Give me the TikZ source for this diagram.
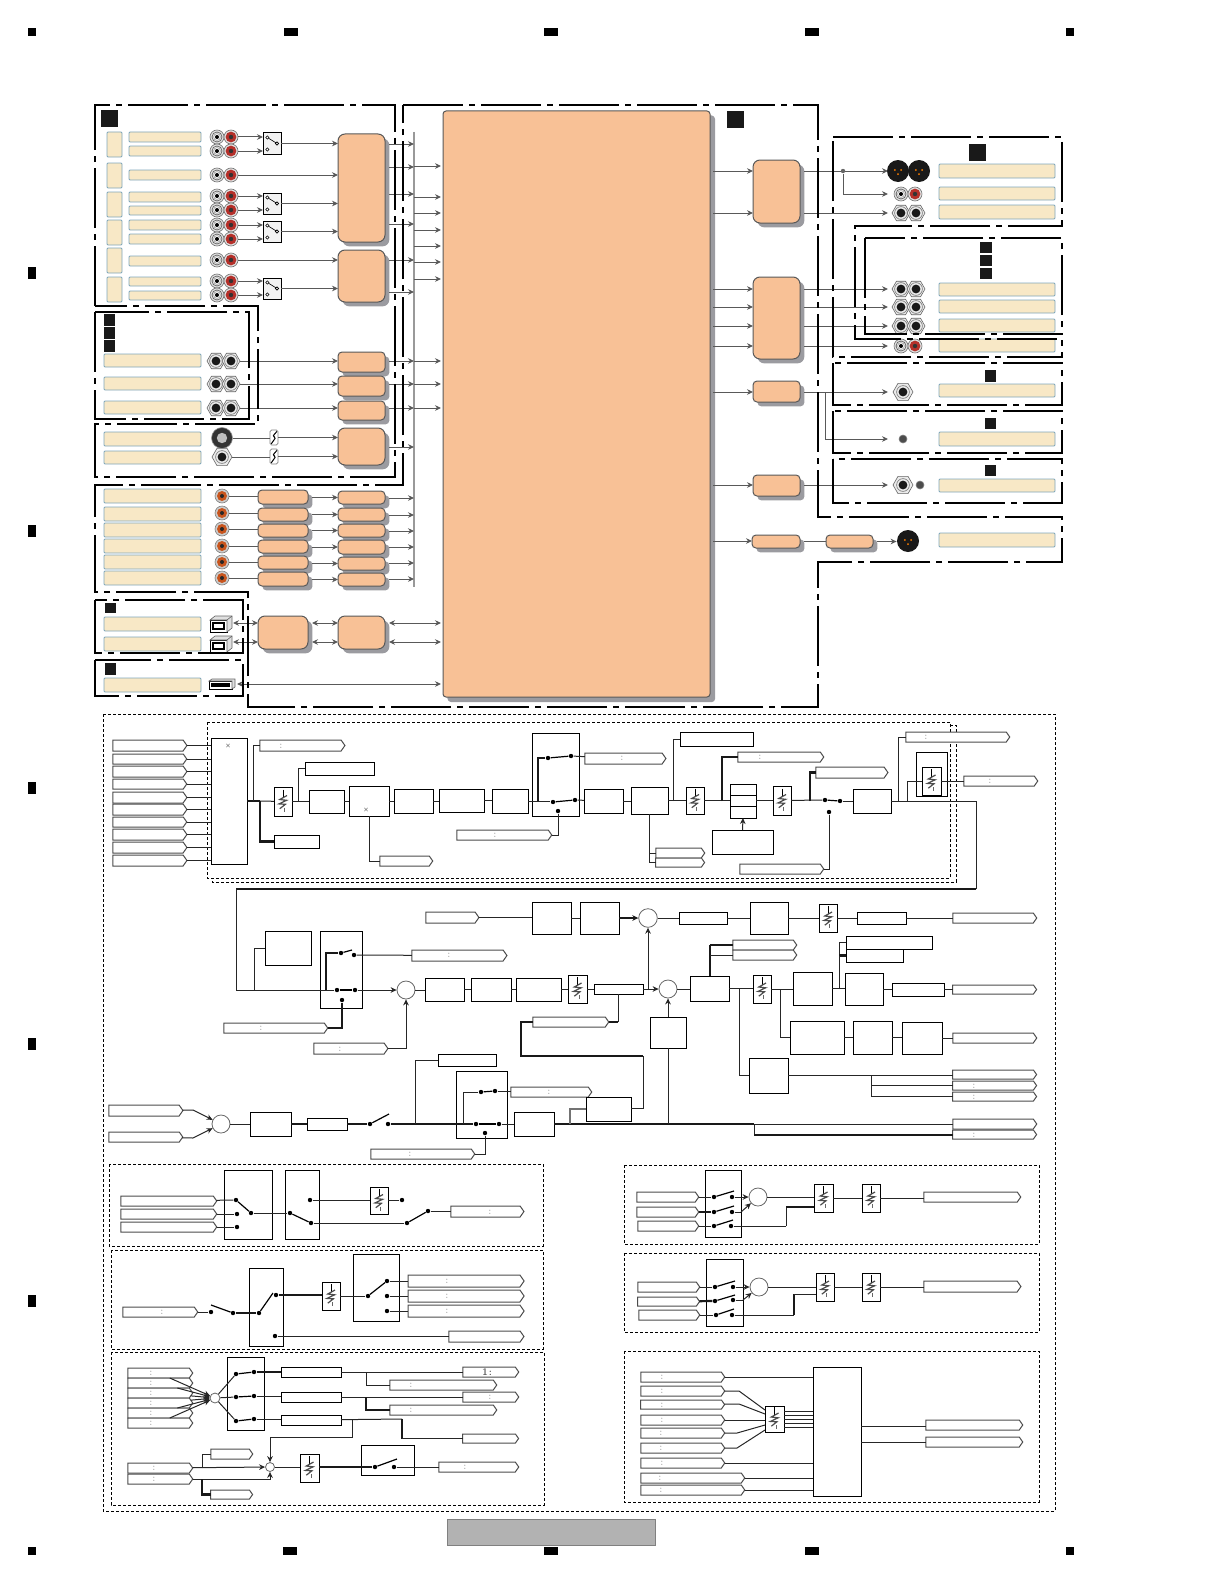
\documentclass[tikz,border=0pt]{standalone}
\usepackage{amsmath,amsfonts,amssymb}
\usepackage{xcolor}
\usetikzlibrary{arrows.meta,shadows,shapes.geometric,shapes.symbols}
\definecolor{blockorange}{HTML}{F8C196}
\definecolor{labelcream}{HTML}{F8E8C6}
\definecolor{labeledge}{HTML}{7FA6BA}
\definecolor{shadowgray}{HTML}{9B9BA0}
\definecolor{jackred}{HTML}{B5302A}
\definecolor{rcaorange}{HTML}{C8551E}
\tikzset{
  spanbox/.style n args={4}{at={({(#1+#3)/2},{(#2+#4)/2})},minimum width={(#3-#1)*0.5pt},minimum height={(#4-#2)*0.5pt},inner sep=0pt,outer sep=0pt},
  panel/.style={line width=1pt,dash pattern=on 30pt off 3pt on 3pt off 3pt},
  dotpanel/.style={line width=0.5pt,dash pattern=on 1.5pt off 1pt},
  lblbox/.style={draw=labeledge,fill=labelcream,line width=0.4pt,rounded corners=0.5pt},
  blk/.style={draw=black!65,fill=blockorange,line width=0.5pt,rounded corners=2pt,drop shadow={shadow xshift=2.2pt,shadow yshift=-2.2pt,fill=shadowgray,opacity=1}},
  bigblk/.style={blk,rounded corners=3.5pt},
  sqmark/.style={fill=black!90},
  regmark/.style={fill=black},
  sigbox/.style={draw=black,fill=white,line width=0.5pt},
  swbox/.style={draw=black,line width=0.5pt},
  sigtag/.style={signal,signal to=east,signal pointer angle=110,draw=black!70,fill=white,line width=0.5pt,xshift=-1pt},
  tagmark/.style={font=\tiny,text=black!35,inner sep=0pt},
  mixmark/.style={font=\tiny,scale=0.6,inner sep=0pt},
  sumnode/.style={circle,draw=black!60,fill=white,line width=0.4pt,inner sep=0pt},
  swdot/.style={circle,fill=black,minimum size=2.2pt,inner sep=0pt},
  wire/.style={line width=0.5pt,black!85},
  fat/.style={line width=1.1pt,black!90},
  blade/.style={line width=0.6pt,black},
  jw/.style={line width=0.5pt,black!65},
  fader/.style={sigbox,path picture={
    \coordinate (c) at (path picture bounding box.center);
    \draw[line width=0.4pt] ([yshift=6pt]c) -- ([yshift=2pt]c);
    \draw[line width=0.6pt,black!70] ([shift={(2pt,3pt)}]c) -- ([shift={(-1.6pt,1pt)}]c) -- ([shift={(1.8pt,0.6pt)}]c) -- ([shift={(-2pt,-1.2pt)}]c) -- ([shift={(1.2pt,-1.4pt)}]c) -- ([shift={(-1.6pt,-3.6pt)}]c);
    \draw[line width=0.4pt,black!60] ([shift={(0.8pt,-3pt)}]c) -- ([shift={(0.8pt,-5pt)}]c);
  }},
  minifader/.style={draw=black!50,fill=white,line width=0.3pt,rounded corners=0.8pt,path picture={
    \coordinate (c) at (path picture bounding box.center);
    \draw[line width=0.5pt,black] ([shift={(1.4pt,3pt)}]c) -- ([shift={(-0.8pt,0.4pt)}]c) -- ([shift={(1pt,0.2pt)}]c) -- ([shift={(-1.4pt,-3.2pt)}]c);
  }},
  swicon/.style={draw=black,fill=black!5,line width=0.5pt,path picture={
    \coordinate (c) at (path picture bounding box.center);
    \draw[line width=0.3pt] ([shift={(-2.3pt,3pt)}]c) -- ([shift={(2.5pt,0pt)}]c);
    \draw[line width=0.3pt,fill=white] ([shift={(-2.3pt,3pt)}]c) circle (0.8pt) ([shift={(-2.3pt,-3pt)}]c) circle (0.8pt) ([shift={(2.5pt,0pt)}]c) circle (0.8pt);
  }},
  rcawhite/.style={circle,draw=black!55,fill=black!12,line width=0.3pt,minimum size=7pt,inner sep=0pt,path picture={
    \coordinate (c) at (path picture bounding box.center);
    \draw[black!60,line width=0.4pt,fill=white] (c) circle (2.5pt);
    \draw[black!40,line width=0.3pt] (c) circle (1.7pt);
    \fill[black] (c) circle (1pt);
  }},
  rcared/.style={circle,draw=black!55,fill=black!12,line width=0.3pt,minimum size=7pt,inner sep=0pt,path picture={
    \coordinate (c) at (path picture bounding box.center);
    \fill[jackred] (c) circle (2.7pt);
    \fill[black!80] (c) circle (1.1pt);
  }},
  rcabrown/.style={circle,draw=black!50,fill=black!20,line width=0.3pt,minimum size=7pt,inner sep=0pt,path picture={
    \coordinate (c) at (path picture bounding box.center);
    \fill[rcaorange] (c) circle (2.5pt);
    \fill[black!85] (c) circle (1pt);
  }},
  hexjack/.style={regular polygon,regular polygon sides=6,draw=black!60,fill=black!8,line width=0.3pt,minimum size=9pt,inner sep=0pt,path picture={
    \coordinate (c) at (path picture bounding box.center);
    \draw[black!55,line width=0.3pt] (c) circle (3.2pt);
    \fill[black!90] (c) circle (2.2pt);
  }},
  xlrjack/.style={circle,fill=black!90,minimum size=11pt,inner sep=0pt,path picture={
    \coordinate (c) at (path picture bounding box.center);
    \fill[orange] ([shift={(-1.6pt,0.5pt)}]c) circle (0.5pt) ([shift={(1.6pt,0.5pt)}]c) circle (0.5pt) ([shift={(0pt,-1.6pt)}]c) circle (0.5pt);
  }},
  pinjack/.style={circle,draw=black!50,fill=black!70,line width=0.3pt,minimum size=4pt,inner sep=0pt},
  bigjack/.style={circle,draw=black!40,fill=black!80,line width=0.3pt,minimum size=10.5pt,inner sep=0pt,path picture={
    \coordinate (c) at (path picture bounding box.center);
    \fill[black!25] (c) circle (2.6pt);
  }},
  usbb/.style={draw=black,fill=white,line width=0.5pt,path picture={
    \coordinate (c) at (path picture bounding box.center);
    \draw[line width=0.9pt] ([shift={(-2.7pt,-1.5pt)}]c) rectangle ([shift={(2.7pt,1.5pt)}]c);
  }},
  usbside/.style={draw=black!60,fill=black!12,line width=0.3pt},
  usba/.style={draw=black,fill=white,line width=0.4pt,path picture={
    \coordinate (c) at (path picture bounding box.center);
    \fill[black] ([shift={(-4.8pt,-1.2pt)}]c) rectangle ([shift={(4.8pt,1.2pt)}]c);
  }},
}
\begin{document}
\begin{tikzpicture}[x=0.5pt,y=-0.5pt,>={Stealth[length=3pt,width=2.8pt]}]
\useasboundingbox (0,0) rectangle (1224,1584);

% Page registration marks
\node[regmark,spanbox={28}{28}{36}{36}] (regT1) {};
\node[regmark,spanbox={284}{28}{298}{36}] (regT2) {};
\node[regmark,spanbox={544}{28}{558}{36}] (regT3) {};
\node[regmark,spanbox={805}{28}{819}{36}] (regT4) {};
\node[regmark,spanbox={1066}{28}{1074}{36}] (regT5) {};
\node[regmark,spanbox={28}{267}{36}{279}] (regL1) {};
\node[regmark,spanbox={28}{525}{36}{537}] (regL2) {};
\node[regmark,spanbox={28}{782}{36}{794}] (regL3) {};
\node[regmark,spanbox={28}{1038}{36}{1050}] (regL4) {};
\node[regmark,spanbox={28}{1295}{36}{1307}] (regL5) {};
\node[regmark,spanbox={28}{1547}{36}{1555}] (regB1) {};
\node[regmark,spanbox={283}{1547}{297}{1555}] (regB2) {};
\node[regmark,spanbox={544}{1547}{558}{1555}] (regB3) {};
\node[regmark,spanbox={805}{1547}{819}{1555}] (regB4) {};
\node[regmark,spanbox={1066}{1547}{1074}{1555}] (regB5) {};
\node[draw=black!50,fill=black!30,line width=0.4pt,spanbox={447}{1519}{655}{1545}] (footer) {};

% Main processing block
\node[bigblk,spanbox={443}{111}{710}{697},drop shadow={shadow xshift=2.5pt,shadow yshift=-2.5pt,fill=shadowgray,opacity=1},rounded corners=1.5pt] (main) {};

% Input labels, upper group
\node[lblbox,spanbox={107}{132}{122}{157}] (grpA1) {};
\node[lblbox,spanbox={107}{163}{122}{188}] (grpA2) {};
\node[lblbox,spanbox={107}{192}{122}{217}] (grpA3) {};
\node[lblbox,spanbox={107}{220}{122}{245}] (grpA4) {};
\node[lblbox,spanbox={107}{248}{122}{273}] (grpA5) {};
\node[lblbox,spanbox={107}{277}{122}{302}] (grpA6) {};
\node[lblbox,spanbox={129}{132}{201}{142}] (lblA1) {};
\node[lblbox,spanbox={129}{146}{201}{156}] (lblA2) {};
\node[lblbox,spanbox={129}{170}{201}{180}] (lblA3) {};
\node[lblbox,spanbox={129}{192}{201}{202}] (lblA4) {};
\node[lblbox,spanbox={129}{206}{201}{215}] (lblA5) {};
\node[lblbox,spanbox={129}{220}{201}{230}] (lblA6) {};
\node[lblbox,spanbox={129}{234}{201}{244}] (lblA7) {};
\node[lblbox,spanbox={129}{256}{201}{266}] (lblA8) {};
\node[lblbox,spanbox={129}{277}{201}{286}] (lblA9) {};
\node[lblbox,spanbox={129}{291}{201}{300}] (lblA10) {};

% RCA jacks
\node[rcawhite] (jkA1w) at (217,137) {};  \node[rcared] (jkA1r) at (231,137) {};
\node[rcawhite] (jkA2w) at (217,151) {};  \node[rcared] (jkA2r) at (231,151) {};
\node[rcawhite] (jkA3w) at (217,175) {};  \node[rcared] (jkA3r) at (231,175) {};
\node[rcawhite] (jkA4w) at (217,196) {};  \node[rcared] (jkA4r) at (231,196) {};
\node[rcawhite] (jkA5w) at (217,210) {};  \node[rcared] (jkA5r) at (231,210) {};
\node[rcawhite] (jkA6w) at (217,225) {};  \node[rcared] (jkA6r) at (231,225) {};
\node[rcawhite] (jkA7w) at (217,239) {};  \node[rcared] (jkA7r) at (231,239) {};
\node[rcawhite] (jkA8w) at (217,260) {};  \node[rcared] (jkA8r) at (231,260) {};
\node[rcawhite] (jkA9w) at (217,281) {};  \node[rcared] (jkA9r) at (231,281) {};
\node[rcawhite] (jkA10w) at (217,295) {}; \node[rcared] (jkA10r) at (231,295) {};

% Selector switches and converters
\node[swicon,spanbox={263}{133}{281}{154}] (swA1) {};
\node[swicon,spanbox={263}{193}{281}{214}] (swA2) {};
\node[swicon,spanbox={263}{221}{281}{242}] (swA3) {};
\node[swicon,spanbox={263}{278}{281}{299}] (swA4) {};
\node[bigblk,spanbox={338}{134}{385}{242}] (blkA) {};
\node[bigblk,spanbox={338}{250}{385}{302}] (blkB) {};

\draw[jw,->] (jkA1r) -- (jkA1r -| swA1.west);
\draw[jw,->] (jkA2r) -- (jkA2r -| swA1.west);
\draw[jw,->] (jkA4r) -- (jkA4r -| swA2.west);
\draw[jw,->] (jkA5r) -- (jkA5r -| swA2.west);
\draw[jw,->] (jkA6r) -- (jkA6r -| swA3.west);
\draw[jw,->] (jkA7r) -- (jkA7r -| swA3.west);
\draw[jw,->] (jkA9r) -- (jkA9r -| swA4.west);
\draw[jw,->] (jkA10r) -- (jkA10r -| swA4.west);
\draw[jw,->] (jkA3r) -- (jkA3r -| blkA.west);
\draw[jw,->] (jkA8r) -- (jkA8r -| blkB.west);
\draw[jw,->] (swA1) -- (swA1 -| blkA.west);
\draw[jw,->] (swA2) -- (swA2 -| blkA.west);
\draw[jw,->] (swA3) -- (swA3 -| blkA.west);
\draw[jw,->] (swA4) -- (swA4 -| blkB.west);

% Balanced inputs
\node[sqmark,spanbox={104}{314}{115}{326}] (sqC1) {};
\node[sqmark,spanbox={104}{327}{115}{339}] (sqC2) {};
\node[sqmark,spanbox={104}{340}{115}{352}] (sqC3) {};
\node[sqmark,spanbox={101}{110}{118}{127}] (sqA) {};
\node[lblbox,spanbox={104}{354}{201}{367}] (lblC1) {};
\node[lblbox,spanbox={104}{377}{201}{390}] (lblC2) {};
\node[lblbox,spanbox={104}{401}{201}{414}] (lblC3) {};
\node[hexjack] (jkC1a) at (216,361) {}; \node[hexjack] (jkC1b) at (231,361) {};
\node[hexjack] (jkC2a) at (216,384) {}; \node[hexjack] (jkC2b) at (231,384) {};
\node[hexjack] (jkC3a) at (216,408) {}; \node[hexjack] (jkC3b) at (231,408) {};
\node[blk,spanbox={338}{352}{385}{372}] (blkC1) {};
\node[blk,spanbox={338}{376}{385}{396}] (blkC2) {};
\node[blk,spanbox={338}{401}{385}{420}] (blkC3) {};
\draw[jw,->] (jkC1b) -- (jkC1b -| blkC1.west);
\draw[jw,->] (jkC2b) -- (jkC2b -| blkC2.west);
\draw[jw,->] (jkC3b) -- (jkC3b -| blkC3.west);

% Mic inputs
\node[lblbox,spanbox={104}{432}{201}{446}] (lblD1) {};
\node[lblbox,spanbox={104}{451}{201}{464}] (lblD2) {};
\node[bigjack] (jkD1) at (222,438) {};
\node[hexjack,minimum size=10pt] (jkD2) at (222,457) {};
\node[minifader,spanbox={270}{430}{278}{445}] (vrD1) {};
\node[minifader,spanbox={270}{449}{278}{464}] (vrD2) {};
\node[bigblk,spanbox={338}{428}{385}{465}] (blkD) {};
\draw[jw] (jkD1) -- (jkD1 -| vrD1.west);
\draw[jw] (jkD2) -- (jkD2 -| vrD2.west);
\draw[jw,->] (vrD1) -- (vrD1 -| blkD.west);
\draw[jw,->] (vrD2) -- (vrD2 -| blkD.west);

% Digital inputs
\node[lblbox,spanbox={104}{489}{201}{503}] (lblE1) {};
\node[lblbox,spanbox={104}{507}{201}{521}] (lblE2) {};
\node[lblbox,spanbox={104}{523}{201}{537}] (lblE3) {};
\node[lblbox,spanbox={104}{539}{201}{553}] (lblE4) {};
\node[lblbox,spanbox={104}{555}{201}{569}] (lblE5) {};
\node[lblbox,spanbox={104}{571}{201}{585}] (lblE6) {};
\node[rcabrown] (jkE1) at (222,496) {};
\node[rcabrown] (jkE2) at (222,513) {};
\node[rcabrown] (jkE3) at (222,529) {};
\node[rcabrown] (jkE4) at (222,546) {};
\node[rcabrown] (jkE5) at (222,562) {};
\node[rcabrown] (jkE6) at (222,578) {};
\node[blk,spanbox={258}{490}{308}{504}] (blkE1) {};
\node[blk,spanbox={258}{508}{308}{521}] (blkE2) {};
\node[blk,spanbox={258}{524}{308}{537}] (blkE3) {};
\node[blk,spanbox={258}{540}{308}{553}] (blkE4) {};
\node[blk,spanbox={258}{556}{308}{569}] (blkE5) {};
\node[blk,spanbox={258}{572}{308}{586}] (blkE6) {};
\node[blk,spanbox={338}{491}{385}{504}] (blkF1) {};
\node[blk,spanbox={338}{508}{385}{521}] (blkF2) {};
\node[blk,spanbox={338}{524}{385}{537}] (blkF3) {};
\node[blk,spanbox={338}{540}{385}{554}] (blkF4) {};
\node[blk,spanbox={338}{557}{385}{570}] (blkF5) {};
\node[blk,spanbox={338}{573}{385}{586}] (blkF6) {};
\draw[jw] (jkE1) -- (jkE1 -| blkE1.west);
\draw[jw] (jkE2) -- (jkE2 -| blkE2.west);
\draw[jw] (jkE3) -- (jkE3 -| blkE3.west);
\draw[jw] (jkE4) -- (jkE4 -| blkE4.west);
\draw[jw] (jkE5) -- (jkE5 -| blkE5.west);
\draw[jw] (jkE6) -- (jkE6 -| blkE6.west);
\draw[jw,->,shorten <=2.2pt] (blkF1 -| blkE1.east) -- (blkF1.west);
\draw[jw,->,shorten <=2.2pt] (blkF2 -| blkE2.east) -- (blkF2.west);
\draw[jw,->,shorten <=2.2pt] (blkF3 -| blkE3.east) -- (blkF3.west);
\draw[jw,->,shorten <=2.2pt] (blkF4 -| blkE4.east) -- (blkF4.west);
\draw[jw,->,shorten <=2.2pt] (blkF5 -| blkE5.east) -- (blkF5.west);
\draw[jw,->,shorten <=2.2pt] (blkF6 -| blkE6.east) -- (blkF6.west);

% USB section
\node[sqmark,spanbox={105}{603}{116}{613}] (sqG) {};
\node[sqmark,spanbox={105}{663}{116}{675}] (sqH) {};
\node[lblbox,spanbox={104}{617}{201}{631}] (lblG1) {};
\node[lblbox,spanbox={104}{637}{201}{651}] (lblG2) {};
\node[lblbox,spanbox={104}{678}{201}{692}] (lblH) {};
\node[usbb,spanbox={210}{620}{227}{632}] (usbG1) {};
\node[usbb,spanbox={210}{640}{227}{652}] (usbG2) {};
\draw[usbside] (usbG1.north west) -- ++(5,-4) -- ++(17,0) -- ++(0,12) -- (usbG1.south east) -- (usbG1.north east) -- cycle;
\draw[usbside] (usbG2.north west) -- ++(5,-4) -- ++(17,0) -- ++(0,12) -- (usbG2.south east) -- (usbG2.north east) -- cycle;
\draw[line width=0.3pt,black!60] (usbG1.north east) -- ++(5,-4);
\draw[line width=0.3pt,black!60] (usbG2.north east) -- ++(5,-4);
\node[usba,spanbox={209}{681}{232}{689}] (usbH) {};
\draw[usbside] (usbH.north west) -- ++(3,-2) -- ++(23,0) -- ++(0,8) -- (usbH.south east) -- (usbH.north east) -- cycle;
\node[bigblk,spanbox={258}{616}{308}{649}] (blkG1) {};
\node[bigblk,spanbox={338}{616}{385}{649}] (blkG2) {};
\coordinate (usbL1) at (233,623);
\coordinate (usbL2) at (233,642);
\coordinate (usbL3) at (237,684);
\draw[jw,<->] (usbL1) -- (usbL1 -| blkG1.west);
\draw[jw,<->] (usbL2) -- (usbL2 -| blkG1.west);
\draw[jw,<->,shorten <=2pt] (usbL1 -| blkG1.east) -- (usbL1 -| blkG2.west);
\draw[jw,<->,shorten <=2pt] (usbL2 -| blkG1.east) -- (usbL2 -| blkG2.west);
\draw[jw,<->,shorten <=2pt,shorten >=1pt] (usbL1 -| blkG2.east) -- (usbL1 -| main.west);
\draw[jw,<->,shorten <=2pt,shorten >=1pt] (usbL2 -| blkG2.east) -- (usbL2 -| main.west);
\draw[jw,<->,shorten >=1pt] (usbL3) -- (usbL3 -| main.west);

% Bus toward main block
\coordinate (busT) at (414,132);
\coordinate (busB) at (414,587);
\draw[line width=0.6pt,black!40] (busT) -- (busB);
\coordinate (biA1) at (414,144);
\coordinate (biA2) at (414,167);
\coordinate (biA3) at (414,194);
\coordinate (biA4) at (414,224);
\coordinate (biB1) at (414,260);
\coordinate (biB2) at (414,292);
\coordinate (biC1) at (414,361);
\coordinate (biC2) at (414,384);
\coordinate (biC3) at (414,408);
\coordinate (biD) at (414,447);
\coordinate (biF1) at (414,498);
\coordinate (biF2) at (414,515);
\coordinate (biF3) at (414,531);
\coordinate (biF4) at (414,547);
\coordinate (biF5) at (414,563);
\coordinate (biF6) at (414,579);
\draw[jw,->,shorten <=2.2pt] (biA1 -| blkA.east) -- (biA1);
\draw[jw,->,shorten <=2.2pt] (biA2 -| blkA.east) -- (biA2);
\draw[jw,->,shorten <=2.2pt] (biA3 -| blkA.east) -- (biA3);
\draw[jw,->,shorten <=2.2pt] (biA4 -| blkA.east) -- (biA4);
\draw[jw,->,shorten <=2.2pt] (biB1 -| blkB.east) -- (biB1);
\draw[jw,->,shorten <=2.2pt] (biB2 -| blkB.east) -- (biB2);
\draw[jw,->,shorten <=2.2pt] (biC1 -| blkC1.east) -- (biC1);
\draw[jw,->,shorten <=2.2pt] (biC2 -| blkC2.east) -- (biC2);
\draw[jw,->,shorten <=2.2pt] (biC3 -| blkC3.east) -- (biC3);
\draw[jw,->,shorten <=2.2pt] (biD -| blkD.east) -- (biD);
\draw[jw,->,shorten <=2.2pt] (biF1 -| blkF1.east) -- (biF1);
\draw[jw,->,shorten <=2.2pt] (biF2 -| blkF2.east) -- (biF2);
\draw[jw,->,shorten <=2.2pt] (biF3 -| blkF3.east) -- (biF3);
\draw[jw,->,shorten <=2.2pt] (biF4 -| blkF4.east) -- (biF4);
\draw[jw,->,shorten <=2.2pt] (biF5 -| blkF5.east) -- (biF5);
\draw[jw,->,shorten <=2.2pt] (biF6 -| blkF6.east) -- (biF6);
\coordinate (boM1) at (414,166);
\coordinate (boM2) at (414,197);
\coordinate (boM3) at (414,213);
\coordinate (boM4) at (414,230);
\coordinate (boM5) at (414,246);
\coordinate (boM6) at (414,262);
\coordinate (boM7) at (414,279);
\draw[jw,->,shorten >=1pt] (boM1) -- (boM1 -| main.west);
\draw[jw,->,shorten >=1pt] (boM2) -- (boM2 -| main.west);
\draw[jw,->,shorten >=1pt] (boM3) -- (boM3 -| main.west);
\draw[jw,->,shorten >=1pt] (boM4) -- (boM4 -| main.west);
\draw[jw,->,shorten >=1pt] (boM5) -- (boM5 -| main.west);
\draw[jw,->,shorten >=1pt] (boM6) -- (boM6 -| main.west);
\draw[jw,->,shorten >=1pt] (boM7) -- (boM7 -| main.west);
\draw[jw,->,shorten >=1pt] (biC1) -- (biC1 -| main.west);
\draw[jw,->,shorten >=1pt] (biC2) -- (biC2 -| main.west);
\draw[jw,->,shorten >=1pt] (biC3) -- (biC3 -| main.west);

% Output side blocks
\node[sqmark,spanbox={727}{111}{744}{128}] (sqM) {};
\node[bigblk,spanbox={753}{160}{800}{223}] (blkO1) {};
\node[bigblk,spanbox={753}{277}{800}{359}] (blkO2) {};
\node[blk,spanbox={753}{381}{800}{402}] (blkO3) {};
\node[blk,spanbox={753}{475}{800}{496}] (blkO4) {};
\node[blk,spanbox={752}{535}{800}{548}] (blkO5) {};
\node[blk,spanbox={826}{535}{873}{548}] (blkO6) {};

% Output labels and jacks
\node[sqmark,spanbox={969}{144}{986}{161}] (sqR1) {};
\node[sqmark,spanbox={980}{242}{992}{253}] (sqR2) {};
\node[sqmark,spanbox={980}{255}{992}{266}] (sqR3) {};
\node[sqmark,spanbox={980}{268}{992}{279}] (sqR4) {};
\node[sqmark,spanbox={985}{370}{996}{382}] (sqR5) {};
\node[sqmark,spanbox={985}{418}{996}{429}] (sqR6) {};
\node[sqmark,spanbox={985}{465}{996}{476}] (sqR7) {};
\node[lblbox,spanbox={939}{164}{1055}{178}] (lblR1) {};
\node[lblbox,spanbox={939}{187}{1055}{200}] (lblR2) {};
\node[lblbox,spanbox={939}{205}{1055}{219}] (lblR3) {};
\node[lblbox,spanbox={939}{283}{1055}{296}] (lblR4) {};
\node[lblbox,spanbox={939}{300}{1055}{313}] (lblR5) {};
\node[lblbox,spanbox={939}{319}{1055}{332}] (lblR6) {};
\node[lblbox,spanbox={939}{339}{1055}{352}] (lblR7) {};
\node[lblbox,spanbox={939}{384}{1055}{397}] (lblR8) {};
\node[lblbox,spanbox={939}{432}{1055}{446}] (lblR9) {};
\node[lblbox,spanbox={939}{479}{1055}{492}] (lblR10) {};
\node[lblbox,spanbox={939}{533}{1055}{547}] (lblR11) {};
\node[xlrjack] (jkR1a) at (898,171) {}; \node[xlrjack] (jkR1b) at (919,171) {};
\node[rcawhite] (jkR2a) at (901,194) {}; \node[rcared] (jkR2b) at (915,194) {};
\node[hexjack] (jkR3a) at (901,213) {}; \node[hexjack] (jkR3b) at (916,213) {};
\node[hexjack] (jkR4a) at (901,289) {}; \node[hexjack] (jkR4b) at (916,289) {};
\node[hexjack] (jkR5a) at (901,307) {}; \node[hexjack] (jkR5b) at (916,307) {};
\node[hexjack] (jkR6a) at (901,326) {}; \node[hexjack] (jkR6b) at (916,326) {};
\node[rcawhite] (jkR7a) at (901,346) {}; \node[rcared] (jkR7b) at (915,346) {};
\node[hexjack,minimum size=10pt] (jkR8) at (903,392) {};
\node[pinjack] (jkR9) at (903,439) {};
\node[hexjack,minimum size=10pt] (jkR10) at (903,485) {};
\node[pinjack] (jkR10b) at (920,485) {};
\node[xlrjack] (jkR11) at (908,541) {};

% Wires main block to outputs
\draw[jw,->,shorten <=1.5pt] (jkR1a -| main.east) -- (jkR1a -| blkO1.west);
\draw[jw,->,shorten <=1.5pt] (jkR3a -| main.east) -- (jkR3a -| blkO1.west);
\draw[jw,->,shorten <=1.5pt] (jkR4a -| main.east) -- (jkR4a -| blkO2.west);
\draw[jw,->,shorten <=1.5pt] (jkR5a -| main.east) -- (jkR5a -| blkO2.west);
\draw[jw,->,shorten <=1.5pt] (jkR6a -| main.east) -- (jkR6a -| blkO2.west);
\draw[jw,->,shorten <=1.5pt] (jkR7a -| main.east) -- (jkR7a -| blkO2.west);
\draw[jw,->,shorten <=1.5pt] (jkR8 -| main.east) -- (jkR8 -| blkO3.west);
\draw[jw,->,shorten <=1.5pt] (jkR10 -| main.east) -- (jkR10 -| blkO4.west);
\draw[jw,->,shorten <=1.5pt] (jkR11 -| main.east) -- (jkR11 -| blkO5.west);
\coordinate (arR1) at (888,171);
\coordinate (arR2) at (888,194);
\coordinate (arR3) at (888,213);
\coordinate (arR4) at (888,289);
\coordinate (arR5) at (888,307);
\coordinate (arR6) at (888,326);
\coordinate (arR7) at (888,346);
\coordinate (arR8) at (888,392);
\coordinate (arR9) at (888,439);
\coordinate (arR10) at (888,485);
\draw[jw,->,shorten <=2.2pt] (arR1 -| blkO1.east) -- (arR1);
\draw[jw,->,shorten <=2.2pt] (arR3 -| blkO1.east) -- (arR3);
\node[circle,fill=black!60,minimum size=2.2pt,inner sep=0pt] (jnR1) at (843,171) {};
\draw[jw,->] (jnR1) |- (arR2);
\draw[jw,->,shorten <=2.2pt] (arR4 -| blkO2.east) -- (arR4);
\draw[jw,->,shorten <=2.2pt] (arR5 -| blkO2.east) -- (arR5);
\draw[jw,->,shorten <=2.2pt] (arR6 -| blkO2.east) -- (arR6);
\draw[jw,->,shorten <=2.2pt] (arR7 -| blkO2.east) -- (arR7);
\draw[jw,->,shorten <=2.2pt] (arR8 -| blkO3.east) -- (arR8);
\draw[jw,->,shorten <=2.2pt] (arR10 -| blkO4.east) -- (arR10);
\coordinate (jnR2) at (825,392);
\draw[jw,->] (jnR2) |- (arR9);
\draw[jw,shorten <=2.2pt] (blkO5) -- (blkO6);
\draw[jw,->,shorten <=2.2pt] (blkO6.east) -- (blkO6 -| jkR11.west);

% Dash-dot group frames
\draw[panel] (95,306) -- (95,105) -- (395,105) -- (395,477) -- (95,477) -- (95,424) -- (258,424) -- (258,306) -- cycle;
\draw[panel] (95,312) rectangle (249,419);
\draw[panel] (403,105) -- (818,105) -- (818,517) -- (1062,517) -- (1062,562) -- (818,562) -- (818,707) -- (248,707) -- (248,592) -- (95,592) -- (95,485) -- (403,485) -- cycle;
\draw[panel] (95,600) rectangle (243,653);
\draw[panel] (95,660) rectangle (243,696);
\draw[panel] (833,137) -- (1062,137) -- (1062,226) -- (855,226) -- (855,339) -- (1062,339) -- (1062,357) -- (833,357) -- cycle;
\draw[panel] (865,238) rectangle (1062,334);
\draw[panel] (833,363) rectangle (1062,405);
\draw[panel] (833,411) rectangle (1062,453);
\draw[panel] (833,459) rectangle (1062,503);

% Dotted frames of the signal flow
\draw[dotpanel] (103,714) rectangle (1055,1511);
\draw[dotpanel] (207,722) rectangle (950,878);
\draw[dotpanel] (950,725) -- (956,725) -- (956,882) -- (212,882) -- (212,878);
\draw[dotpanel] (109,1164) rectangle (543,1246);
\draw[dotpanel] (111,1250) rectangle (543,1349);
\draw[dotpanel] (111,1352) rectangle (544,1505);
\draw[dotpanel] (624,1165) rectangle (1039,1244);
\draw[dotpanel] (624,1253) rectangle (1039,1332);
\draw[dotpanel] (624,1351) rectangle (1039,1502);

% First row, input selector
\node[sigtag,spanbox={113}{740}{187}{751}] (inA1) {};
\node[sigtag,spanbox={113}{754}{187}{764}] (inA2) {};
\node[sigtag,spanbox={113}{766}{187}{777}] (inA3) {};
\node[sigtag,spanbox={113}{779}{187}{789}] (inA4) {};
\node[sigtag,spanbox={113}{792}{187}{803}] (inA5) {};
\node[sigtag,spanbox={113}{804}{187}{815}] (inA6) {};
\node[sigtag,spanbox={113}{817}{187}{827}] (inA7) {};
\node[sigtag,spanbox={113}{829}{187}{840}] (inA8) {};
\node[sigtag,spanbox={113}{842}{187}{853}] (inA9) {};
\node[sigtag,spanbox={113}{855}{187}{866}] (inA10) {};
\node[sigbox,spanbox={211}{738}{247}{864}] (mix) {};
\node[mixmark] (mixmk) at (228,746) {$\times$};
\draw[wire] (inA1) -- (inA1 -| mix.west);
\draw[wire] (inA2) -- (inA2 -| mix.west);
\draw[wire] (inA3) -- (inA3 -| mix.west);
\draw[wire] (inA4) -- (inA4 -| mix.west);
\draw[wire] (inA5) -- (inA5 -| mix.west);
\draw[wire] (inA6) -- (inA6 -| mix.west);
\draw[wire] (inA7) -- (inA7 -| mix.west);
\draw[wire] (inA8) -- (inA8 -| mix.west);
\draw[wire] (inA9) -- (inA9 -| mix.west);
\draw[wire] (inA10) -- (inA10 -| mix.west);

\node[sigtag,spanbox={260}{740}{345}{751}] (tagA1) {};
\node[fader,spanbox={274}{787}{292}{816}] (fdA1) {};
\node[sigbox,spanbox={274}{835}{319}{848}] (boxA0) {};
\node[sigbox,spanbox={305}{762}{374}{775}] (boxA1) {};
\node[sigbox,spanbox={309}{790}{344}{813}] (boxA2) {};
\node[sigbox,spanbox={349}{786}{389}{816}] (boxA3) {};
\node[mixmark] (boxA3mk) at (366,810) {$\times$};
\node[sigbox,spanbox={394}{789}{433}{813}] (boxA4) {};
\node[sigbox,spanbox={439}{789}{484}{812}] (boxA5) {};
\node[sigbox,spanbox={492}{789}{528}{813}] (boxA6) {};
\node[sigtag,spanbox={380}{856}{433}{866}] (tagA2) {};
\node[sigtag,spanbox={457}{830}{552}{840}] (tagA3) {};
\node[swbox,spanbox={532}{733}{579}{816}] (swbA) {};
\node[sigtag,spanbox={585}{753}{666}{764}] (tagA4) {};
\node[sigbox,spanbox={584}{789}{623}{813}] (boxA7) {};
\node[sigbox,spanbox={631}{787}{668}{814}] (boxA8) {};
\node[sigbox,spanbox={680}{732}{753}{746}] (boxA9) {};
\node[fader,spanbox={686}{787}{704}{814}] (fdA2) {};
\node[sigbox,spanbox={730}{784}{756}{795}] (stkA) {};
\node[sigbox,spanbox={730}{795}{756}{806}] (stkB) {};
\node[sigbox,spanbox={730}{806}{756}{818}] (stkC) {};
\node[sigbox,spanbox={712}{830}{773}{854}] (boxA10) {};
\node[sigtag,spanbox={738}{752}{824}{762}] (tagA5) {};
\node[sigtag,spanbox={656}{848}{705}{858}] (tagA6) {};
\node[sigtag,spanbox={656}{858}{705}{867}] (tagA7) {};
\node[fader,spanbox={773}{786}{791}{815}] (fdA3) {};
\node[sigtag,spanbox={816}{767}{888}{778}] (tagA8) {};
\node[sigtag,spanbox={740}{864}{824}{874}] (tagA9) {};
\node[sigbox,spanbox={853}{789}{891}{813}] (boxA11) {};
\node[sigtag,spanbox={906}{732}{1010}{742}] (tagA10) {};
\node[swbox,spanbox={916}{752}{947}{796}] (swbB) {};
\node[fader,spanbox={922}{767}{941}{795}] (fdA4) {};
\node[sigtag,spanbox={964}{776}{1038}{786}] (tagA11) {};
\node[swdot] (dA1) at (548,758) {};
\node[swdot] (dA2) at (571,756) {};
\node[swdot] (dA3) at (553,802) {};
\node[swdot] (dA4) at (575,800) {};
\node[swdot] (dA5) at (558,811) {};
\node[swdot] (dA6) at (825,800) {};
\node[swdot] (dA7) at (840,801) {};
\node[swdot] (dA8) at (829,812) {};
\coordinate (jA1) at (253,801);
\coordinate (jA2) at (260,801);
\coordinate (jA3) at (298,801);
\coordinate (jA4) at (538,801);
\coordinate (jA5) at (673,801);
\coordinate (jA6) at (722,801);
\coordinate (jA7) at (810,801);
\coordinate (jA8) at (898,801);
\coordinate (jA9) at (907,801);
\coordinate (jB0) at (976,801);
\coordinate (jB1) at (976,889);
\coordinate (jB2) at (236,889);
\coordinate (jB3) at (236,990);
\draw[fat] (mix.east |- jA1) -- (jA2);
\draw[wire] (jA2) -- (fdA1);
\draw[wire] (jA1) |- (tagA1);
\draw[fat] (jA2) |- (boxA0);
\draw[wire] (fdA1) -- (fdA1 -| boxA2.west);
\draw[wire] (jA3) |- (boxA1);
\draw[wire] (boxA2) -- (boxA2 -| boxA3.west);
\draw[wire] (boxA3) -- (boxA3 -| boxA4.west);
\draw[wire] (boxA4) -- (boxA4 -| boxA5.west);
\draw[wire] (boxA5) -- (boxA5 -| boxA6.west);
\draw[wire] (boxA6) -- (boxA6 -| dA3.west);
\draw[wire] (boxA3.south) |- (tagA2);
\draw[wire] (dA5) |- (tagA3);
\draw[fat] (jA4) |- (dA1);
\draw[blade] (dA1) -- (dA2);
\draw[blade] (dA3) -- (dA4);
\draw[wire] (dA2) -- (tagA4);
\draw[wire] (dA4) -- (boxA7);
\draw[wire] (boxA7) -- (boxA7 -| boxA8.west);
\draw[wire] (boxA8) -- (boxA8 -| fdA2.west);
\draw[wire] (jA5) |- (boxA9);
\draw[wire] (boxA8.south) |- (tagA6);
\draw[wire] (boxA8.south) |- (tagA7);
\draw[wire] (fdA2) -- (fdA2 -| stkB.west);
\draw[fat] (jA6) |- (tagA5);
\draw[wire] (stkB) -- (stkB -| fdA3.west);
\draw[wire,->] (boxA10.north) -- (stkC.south);
\draw[wire] (fdA3) -- (dA6);
\draw[fat] (jA7) |- (tagA8);
\draw[blade] (dA6) -- (dA7);
\draw[wire] (dA7) -- (dA7 -| boxA11.west);
\draw[wire] (dA8) |- (tagA9);
\draw[wire] (jA8) |- (tagA10);
\draw[wire] (jA9) |- (fdA4);
\draw[wire] (fdA4) -- (fdA4 -| tagA11.west);
\draw[wire] (boxA11.east |- jB0) -- (jB0) -- (jB1);
\draw[fat] (jB1) -- (jB2);
\draw[wire] (jB2) -- (jB3);

% Second block, left part
\node[sigbox,spanbox={265}{931}{311}{965}] (boxB1) {};
\node[swbox,spanbox={320}{931}{362}{1008}] (swbC) {};
\node[swdot] (dB1) at (341,953) {};
\node[swdot] (dB2) at (354,955) {};
\node[swdot] (dB3) at (337,990) {};
\node[swdot] (dB4) at (355,990) {};
\node[swdot] (dB5) at (342,1000) {};
\node[sigtag,spanbox={412}{950}{507}{961}] (tagB1) {};
\node[sigtag,spanbox={224}{1023}{328}{1033}] (tagB2) {};
\node[sigtag,spanbox={314}{1043}{388}{1054}] (tagB3) {};
\node[sumnode,minimum size=9pt] (sumB1) at (406,990) {};
\node[sigbox,spanbox={425}{978}{464}{1001}] (boxB2) {};
\node[sigbox,spanbox={471}{978}{511}{1001}] (boxB3) {};
\node[sigbox,spanbox={516}{978}{561}{1001}] (boxB4) {};
\node[fader,spanbox={568}{975}{587}{1003}] (fdB1) {};
\node[sigbox,spanbox={594}{984}{643}{994}] (boxB5) {};
\node[sigtag,spanbox={533}{1017}{609}{1027}] (tagB4) {};
\coordinate (jB4) at (254,990);
\coordinate (jB5) at (326,990);
\coordinate (jB6) at (618,1022);
\coordinate (jB7) at (521,1022);
\coordinate (jB8) at (521,1056);
\coordinate (jB9) at (643,1056);
\coordinate (jC0) at (643,1108);
\coordinate (jB10) at (648,990);
\draw[wire] (jB3) -- (dB3);
\draw[wire] (jB4) |- (boxB1);
\draw[fat] (jB5) |- (dB1);
\draw[blade] (dB1) -- (352,950);
\draw[blade] (dB3) -- (dB4);
\draw[wire] (dB2) -- (tagB1);
\draw[fat] (dB5) |- (tagB2);
\draw[wire,->] (dB4) -- (sumB1);
\draw[wire,->] (tagB3) -| (sumB1);
\draw[wire] (sumB1) -- (sumB1 -| boxB2.west);
\draw[wire] (boxB2) -- (boxB2 -| boxB3.west);
\draw[wire] (boxB3) -- (boxB3 -| boxB4.west);
\draw[wire] (boxB4) -- (boxB4 -| fdB1.west);
\draw[wire] (fdB1) -- (fdB1 -| boxB5.west);
\draw[fat] (tagB4) -- (jB6);
\draw[wire] (jB6) -- (jB6 |- boxB5.south);
\draw[fat] (tagB4) -- (jB7) -- (jB8) -- (jB9);

% Second block, upper row
\node[sigtag,spanbox={426}{912}{479}{923}] (tagB5) {};
\node[sigbox,spanbox={532}{902}{571}{934}] (boxB6) {};
\node[sigbox,spanbox={580}{902}{619}{934}] (boxB7) {};
\node[sumnode,minimum size=9.3pt] (sumB2) at (648,918) {};
\node[sigbox,spanbox={679}{912}{727}{924}] (boxB8) {};
\node[sigbox,spanbox={750}{902}{788}{934}] (boxB9) {};
\node[fader,spanbox={819}{904}{837}{932}] (fdB2) {};
\node[sigbox,spanbox={857}{912}{906}{924}] (boxB10) {};
\node[sigtag,spanbox={953}{913}{1037}{923}] (tagB6) {};
\draw[wire] (tagB5) -- (tagB5 -| boxB6.west);
\draw[wire] (boxB6) -- (boxB6 -| boxB7.west);
\draw[fat,->] (boxB7) -- (sumB2);
\draw[wire] (sumB2) -- (sumB2 -| boxB8.west);
\draw[wire] (boxB8) -- (boxB8 -| boxB9.west);
\draw[wire] (boxB9) -- (boxB9 -| fdB2.west);
\draw[wire] (fdB2) -- (fdB2 -| boxB10.west);
\draw[wire] (boxB10) -- (boxB10 -| tagB6.west);
\draw[wire,->] (jB10) -- (sumB2);

% Second block, right part
\node[sumnode,minimum size=9pt] (sumB3) at (668,989) {};
\node[sigbox,spanbox={650}{1017}{686}{1048}] (boxC7) {};
\node[sigbox,spanbox={690}{976}{729}{1001}] (boxD1) {};
\node[sigtag,spanbox={733}{940}{797}{950}] (tagD1) {};
\node[sigtag,spanbox={733}{950}{797}{960}] (tagD2) {};
\node[fader,spanbox={753}{975}{771}{1003}] (fdD1) {};
\node[sigbox,spanbox={793}{972}{832}{1005}] (boxD2) {};
\node[sigbox,spanbox={846}{936}{932}{949}] (boxD3) {};
\node[sigbox,spanbox={846}{949}{903}{962}] (boxD4) {};
\node[sigbox,spanbox={845}{973}{883}{1005}] (boxD5) {};
\node[sigbox,spanbox={892}{983}{944}{996}] (boxD6) {};
\node[sigtag,spanbox={953}{985}{1037}{994}] (tagD3) {};
\node[sigbox,spanbox={790}{1021}{844}{1054}] (boxD7) {};
\node[sigbox,spanbox={853}{1021}{892}{1054}] (boxD8) {};
\node[sigbox,spanbox={902}{1022}{942}{1054}] (boxD9) {};
\node[sigtag,spanbox={953}{1033}{1037}{1043}] (tagD4) {};
\node[sigbox,spanbox={749}{1058}{788}{1093}] (boxD10) {};
\node[sigtag,spanbox={953}{1070}{1037}{1079}] (tagD5) {};
\node[sigtag,spanbox={953}{1081}{1037}{1090}] (tagD6) {};
\node[sigtag,spanbox={953}{1092}{1037}{1101}] (tagD7) {};
\coordinate (jD1) at (710,945);
\coordinate (jD2) at (739,989);
\coordinate (jD3) at (780,989);
\coordinate (jD4) at (839,989);
\coordinate (jD5) at (871,1075);
\draw[wire,->] (boxB5) -- (sumB3);
\draw[wire,->] (boxC7) -- (sumB3);
\draw[wire] (sumB3) -- (sumB3 -| boxD1.west);
\draw[fat] (jD1 |- boxD1.north) -- (jD1);
\draw[fat] (jD1) -- (jD1 -| tagD1.west);
\draw[wire] (jD1 |- tagD2) -- (tagD2);
\draw[wire] (boxD1) -- (boxD1 -| fdD1.west);
\draw[wire] (fdD1) -- (fdD1 -| boxD2.west);
\draw[wire] (boxD2) -- (boxD2 -| boxD5.west);
\draw[wire] (jD4) |- (boxD3);
\draw[fat] (jD4 |- boxD4) -- (boxD4.west);
\draw[wire] (jD4) -- (jD4 |- boxD4);
\draw[wire] (boxD5) -- (boxD5 -| boxD6.west);
\draw[wire] (boxD6) -- (boxD6 -| tagD3.west);
\draw[wire] (jD3) |- (boxD7);
\draw[wire] (boxD7) -- (boxD7 -| boxD8.west);
\draw[wire] (boxD8) -- (boxD8 -| boxD9.west);
\draw[wire] (boxD9) -- (boxD9 -| tagD4.west);
\draw[wire] (jD2) |- (boxD10);
\draw[wire] (boxD10) -- (boxD10 -| tagD5.west);
\draw[wire] (jD5) |- (tagD6);
\draw[wire] (jD5) |- (tagD7);

% Third row
\node[sigtag,spanbox={109}{1105}{183}{1116}] (inC1) {};
\node[sigtag,spanbox={109}{1132}{183}{1142}] (inC2) {};
\node[sumnode,minimum size=9pt] (sumC) at (221,1124) {};
\node[sigbox,spanbox={250}{1112}{291}{1136}] (boxC1) {};
\node[sigbox,spanbox={307}{1118}{347}{1130}] (boxC2) {};
\node[swdot] (dC1) at (370,1124) {};
\node[swdot] (dC2) at (388,1124) {};
\node[sigbox,spanbox={438}{1054}{496}{1066}] (boxC3) {};
\node[swbox,spanbox={456}{1071}{507}{1138}] (swbD) {};
\node[swdot] (dC3) at (476,1124) {};
\node[swdot] (dC4) at (499,1124) {};
\node[swdot] (dC5) at (481,1092) {};
\node[swdot] (dC6) at (495,1091) {};
\node[swdot] (dC7) at (485,1133) {};
\node[sigtag,spanbox={511}{1087}{592}{1097}] (tagC1) {};
\node[sigtag,spanbox={371}{1149}{475}{1159}] (tagC2) {};
\node[sigbox,spanbox={514}{1112}{554}{1136}] (boxC5) {};
\node[sigbox,spanbox={586}{1097}{631}{1121}] (boxC6) {};
\node[sigtag,spanbox={953}{1119}{1037}{1129}] (tagC3) {};
\node[sigtag,spanbox={953}{1130}{1037}{1139}] (tagC4) {};
\coordinate (jC1) at (193,1110);
\coordinate (jC2) at (193,1138);
\coordinate (jC3) at (415,1124);
\coordinate (jC4) at (463,1124);
\coordinate (jC5) at (570,1124);
\coordinate (jC6) at (668,1124);
\coordinate (jC7) at (754,1124);
\coordinate (jC8) at (754,1135);
\coordinate (swC1) at (389,1114);
\draw[wire] (inC1) -- (jC1);
\draw[wire] (inC2) -- (jC2);
\draw[wire,->] (jC1) -- (sumC);
\draw[wire,->] (jC2) -- (sumC);
\draw[wire] (sumC) -- (sumC -| boxC1.west);
\draw[fat] (boxC1) -- (boxC1 -| boxC2.west);
\draw[fat] (boxC2) -- (dC1);
\draw[blade] (dC1) -- (swC1);
\draw[fat] (dC2) -- (dC3);
\draw[wire] (jC3) |- (boxC3);
\draw[blade] (dC3) -- (dC4);
\draw[wire] (jC4) |- (dC5);
\draw[blade] (dC5) -- (dC6);
\draw[wire] (dC6) -- (dC6 -| tagC1.west);
\draw[wire] (dC7) |- (tagC2);
\draw[wire] (dC4) -- (dC4 -| boxC5.west);
\draw[fat] (boxC5.east |- jC7) -- (jC7);
\draw[fat,black!55] (jC5) |- (boxC6);
\draw[wire] (jC6) -- (jC6 |- boxC7.south);
\draw[wire] (jC7) -- (jC7 -| tagC3.west);
\draw[wire] (jC7) -- (jC8);
\draw[fat] (jC8) -- (jC8 -| tagC4.west);
\draw[wire] (jB9) -- (jC0) -- (jC0 -| boxC6.east);

% Panel, lower left 1
\node[sigtag,spanbox={121}{1196}{217}{1206}] (inE1) {};
\node[sigtag,spanbox={121}{1209}{217}{1219}] (inE2) {};
\node[sigtag,spanbox={121}{1222}{217}{1232}] (inE3) {};
\node[swbox,spanbox={224}{1170}{272}{1239}] (swbE1) {};
\node[swbox,spanbox={285}{1170}{319}{1239}] (swbE2) {};
\node[swdot] (dE1) at (236,1200) {};
\node[swdot] (dE2) at (237,1214) {};
\node[swdot] (dE3) at (237,1227) {};
\node[swdot] (dE4) at (251,1213) {};
\node[swdot] (dE5) at (290,1213) {};
\node[swdot] (dE6) at (310,1200) {};
\node[swdot] (dE7) at (311,1223) {};
\node[fader,spanbox={370}{1187}{388}{1214}] (fdE) {};
\node[swdot] (dE8) at (402,1200) {};
\node[swdot] (dE9) at (407,1223) {};
\node[swdot] (dE10) at (428,1211) {};
\node[sigtag,spanbox={451}{1206}{524}{1217}] (tagE) {};
\draw[wire] (inE1) -- (dE1);
\draw[wire] (inE2) -- (dE2);
\draw[wire] (inE3) -- (dE3);
\draw[blade] (dE1) -- (dE4);
\draw[wire] (dE4) -- (dE5);
\draw[blade] (dE5) -- (dE7);
\draw[wire] (dE6) -- (dE6 -| fdE.west);
\draw[wire] (fdE.east |- dE8) -- (dE8);
\draw[wire] (dE7) -- (dE9);
\draw[blade] (dE9) -- (dE10);
\draw[wire] (dE10) -- (dE10 -| tagE.west);

% Panel, lower left 2
\node[sigtag,spanbox={123}{1307}{198}{1317}] (inF) {};
\node[swdot] (dF1) at (211,1312) {};
\coordinate (swF1) at (211,1305);
\node[swdot] (dF2) at (233,1313) {};
\node[swdot] (dF3) at (259,1313) {};
\coordinate (swF2) at (273,1293);
\node[swbox,spanbox={249}{1268}{283}{1346}] (swbF1) {};
\node[swdot] (dF4) at (276,1295) {};
\node[swdot] (dF5) at (275,1336) {};
\node[fader,spanbox={322}{1282}{340}{1310}] (fdF) {};
\node[swbox,spanbox={353}{1254}{399}{1321}] (swbF2) {};
\node[swdot] (dF6) at (368,1296) {};
\node[swdot] (dF7) at (387,1281) {};
\node[swdot] (dF8) at (387,1296) {};
\node[swdot] (dF9) at (387,1311) {};
\node[sigtag,spanbox={408}{1275}{524}{1287}] (tagF1) {};
\node[sigtag,spanbox={408}{1290}{524}{1302}] (tagF2) {};
\node[sigtag,spanbox={408}{1305}{524}{1317}] (tagF3) {};
\node[sigtag,spanbox={449}{1331}{524}{1342}] (tagF4) {};
\draw[wire] (inF) -- (dF1);
\draw[blade] (swF1) -- (dF2);
\draw[fat] (dF2) -- (dF3);
\draw[blade] (dF3) -- (swF2);
\draw[fat] (dF4) -- (dF4 -| fdF.west);
\draw[wire] (fdF.east |- dF6) -- (dF6);
\draw[blade] (dF6) -- (dF7);
\draw[wire] (dF7) -- (dF7 -| tagF1.west);
\draw[wire] (dF8) -- (dF8 -| tagF2.west);
\draw[wire] (dF9) -- (dF9 -| tagF3.west);
\draw[wire] (dF5) -- (dF5 -| tagF4.west);

% Panel, lower left 3
\node[sigtag,spanbox={128}{1368}{193}{1378}] (inG1) {};
\node[sigtag,spanbox={128}{1378}{193}{1388}] (inG2) {};
\node[sigtag,spanbox={128}{1388}{193}{1398}] (inG3) {};
\node[sigtag,spanbox={128}{1398}{193}{1408}] (inG4) {};
\node[sigtag,spanbox={128}{1408}{193}{1418}] (inG5) {};
\node[sigtag,spanbox={128}{1418}{193}{1428}] (inG6) {};
\node[sumnode,minimum size=5pt] (sumG) at (215,1398) {};
\node[swbox,spanbox={227}{1357}{264}{1430}] (swbG) {};
\node[swdot] (dG1) at (236,1374) {};
\node[swdot] (dG2) at (254,1372) {};
\node[swdot] (dG3) at (236,1397) {};
\node[swdot] (dG4) at (254,1396) {};
\node[swdot] (dG5) at (236,1421) {};
\node[swdot] (dG6) at (254,1419) {};
\node[sigbox,spanbox={281}{1367}{341}{1377}] (boxG1) {};
\node[sigbox,spanbox={281}{1392}{341}{1402}] (boxG2) {};
\node[sigbox,spanbox={281}{1415}{341}{1425}] (boxG3) {};
\node[sigtag,spanbox={463}{1367}{519}{1377}] (tagG1) {};
\node[sigtag,spanbox={463}{1392}{519}{1402}] (tagG2) {};
\node[sigtag,spanbox={463}{1434}{519}{1443}] (tagG3) {};
\node[sigtag,spanbox={390}{1380}{497}{1390}] (tagG4) {};
\node[sigtag,spanbox={390}{1405}{497}{1415}] (tagG5) {};
\coordinate (jG1) at (366,1372);
\coordinate (jG2) at (366,1397);
\coordinate (jG3) at (402,1419);
\coordinate (jG4) at (352,1419);
\coordinate (jG5) at (270,1437);
\draw[wire,->] (inG1) -- (sumG);
\draw[wire,->] (inG2) -- (sumG);
\draw[wire,->] (inG3) -- (sumG);
\draw[wire,->] (inG4) -- (sumG);
\draw[wire,->] (inG5) -- (sumG);
\draw[wire,->] (inG6) -- (sumG);
\draw[wire] (sumG) -- (dG1);
\draw[wire] (sumG) -- (dG3);
\draw[wire] (sumG) -- (dG5);
\draw[blade] (dG1) -- (dG2);
\draw[blade] (dG3) -- (dG4);
\draw[blade] (dG5) -- (dG6);
\draw[fat] (dG2) -- (dG2 -| boxG1.west);
\draw[wire] (dG4) -- (dG4 -| boxG2.west);
\draw[wire] (dG6) -- (dG6 -| boxG3.west);
\draw[wire] (boxG1) -- (boxG1 -| tagG1.west);
\draw[wire] (boxG2) -- (boxG2 -| tagG2.west);
\draw[wire] (jG1) |- (tagG4);
\draw[fat] (jG2) |- (tagG5);
\draw[wire] (boxG3) -- (jG3);
\draw[fat] (jG3) -- (jG3 |- tagG3);
\draw[wire] (jG3 |- tagG3) -- (tagG3);
\node[sigtag,spanbox={128}{1463}{193}{1473}] (inG7) {};
\node[sigtag,spanbox={128}{1474}{193}{1484}] (inG8) {};
\node[sigtag,spanbox={211}{1449}{253}{1459}] (tagG6) {};
\node[sigtag,spanbox={211}{1490}{253}{1499}] (tagG7) {};
\node[sumnode,minimum size=4.5pt] (sumH) at (270,1467) {};
\node[fader,spanbox={300}{1454}{319}{1482}] (fdG) {};
\node[swbox,spanbox={361}{1445}{414}{1475}] (swbH) {};
\node[swdot] (dH1) at (375,1467) {};
\node[swdot] (dH2) at (394,1467) {};
\coordinate (swH1) at (397,1459);
\node[sigtag,spanbox={439}{1462}{519}{1472}] (tagG8) {};
\coordinate (jH1) at (202,1468);
\coordinate (jH2) at (202,1479);
\draw[wire] (jG4) |- (jG5);
\draw[wire,->] (jG5) -- (sumH);
\draw[wire,->] (inG7) -- (sumH);
\draw[wire,->] (inG8) -| (sumH);
\draw[wire] (jH1) |- (tagG6);
\draw[fat] (jH2) |- (tagG7);
\draw[wire] (sumH) -- (sumH -| fdG.west);
\draw[fat] (fdG.east |- dH1) -- (dH1);
\draw[blade] (dH1) -- (swH1);
\draw[wire] (dH2) -- (dH2 -| tagG8.west);

% Panel, lower right 1
\node[sigtag,spanbox={637}{1192}{699}{1202}] (inJ1) {};
\node[sigtag,spanbox={637}{1207}{699}{1217}] (inJ2) {};
\node[sigtag,spanbox={638}{1221}{699}{1231}] (inJ3) {};
\node[swbox,spanbox={705}{1170}{741}{1237}] (swbJ) {};
\node[swdot] (dJ1) at (714,1197) {};
\node[swdot] (dJ2) at (732,1197) {};
\node[swdot] (dJ3) at (714,1212) {};
\node[swdot] (dJ4) at (732,1212) {};
\node[swdot] (dJ5) at (714,1226) {};
\node[swdot] (dJ6) at (731,1226) {};
\coordinate (swJ1) at (734,1191);
\coordinate (swJ2) at (734,1206);
\coordinate (swJ3) at (733,1220);
\coordinate (jJ1) at (741,1212);
\coordinate (jJ2) at (786,1226);
\coordinate (jJ3) at (786,1207);
\node[sumnode,minimum size=9pt] (sumJ) at (758,1197) {};
\node[fader,spanbox={814}{1184}{833}{1212}] (fdJ1) {};
\node[fader,spanbox={862}{1184}{880}{1212}] (fdJ2) {};
\node[sigtag,spanbox={924}{1192}{1021}{1202}] (tagJ) {};
\draw[wire] (inJ1) -- (dJ1);
\draw[fat] (inJ2) -- (dJ3);
\draw[wire] (inJ3) -- (dJ5);
\draw[blade] (dJ1) -- (swJ1);
\draw[blade] (dJ3) -- (swJ2);
\draw[blade] (dJ5) -- (swJ3);
\draw[wire,->] (dJ2) -- (sumJ);
\draw[wire] (dJ4) -- (jJ1);
\draw[wire,->] (jJ1) -- (sumJ);
\draw[wire] (sumJ) -- (sumJ -| fdJ1.west);
\draw[wire] (dJ6) -- (jJ2);
\draw[wire] (jJ2) -- (jJ3);
\draw[fat] (jJ3) -- (jJ3 -| fdJ1.west);
\draw[wire] (fdJ1) -- (fdJ1 -| fdJ2.west);
\draw[wire] (fdJ2) -- (fdJ2 -| tagJ.west);

% Panel, lower right 2
\node[sigtag,spanbox={638}{1282}{700}{1292}] (inK1) {};
\node[sigtag,spanbox={638}{1297}{700}{1306}] (inK2) {};
\node[sigtag,spanbox={639}{1310}{700}{1320}] (inK3) {};
\node[swbox,spanbox={706}{1259}{743}{1326}] (swbK) {};
\node[swdot] (dK1) at (715,1287) {};
\node[swdot] (dK2) at (733,1287) {};
\node[swdot] (dK3) at (715,1301) {};
\node[swdot] (dK4) at (733,1300) {};
\node[swdot] (dK5) at (716,1315) {};
\node[swdot] (dK6) at (732,1315) {};
\coordinate (swK1) at (735,1281);
\coordinate (swK2) at (735,1295);
\coordinate (swK3) at (734,1309);
\coordinate (jK1) at (743,1300);
\coordinate (jK2) at (794,1315);
\coordinate (jK3) at (794,1294);
\node[sumnode,minimum size=9pt] (sumK) at (759,1287) {};
\node[fader,spanbox={816}{1273}{834}{1301}] (fdK1) {};
\node[fader,spanbox={862}{1273}{880}{1301}] (fdK2) {};
\node[sigtag,spanbox={924}{1281}{1021}{1292}] (tagK) {};
\draw[wire] (inK1) -- (dK1);
\draw[fat] (inK2) -- (dK3);
\draw[wire] (inK3) -- (dK5);
\draw[blade] (dK1) -- (swK1);
\draw[blade] (dK3) -- (swK2);
\draw[blade] (dK5) -- (swK3);
\draw[wire,->] (dK2) -- (sumK);
\draw[wire] (dK4) -- (jK1);
\draw[wire,->] (jK1) -- (sumK);
\draw[wire] (sumK) -- (sumK -| fdK1.west);
\draw[wire] (dK6) -- (jK2);
\draw[fat] (jK2) -- (jK3);
\draw[wire] (jK3) -- (jK3 -| fdK1.west);
\draw[wire] (fdK1) -- (fdK1 -| fdK2.west);
\draw[wire] (fdK2) -- (fdK2 -| tagK.west);

% Panel, lower right 3
\node[sigtag,spanbox={641}{1372}{725}{1382}] (inL1) {};
\node[sigtag,spanbox={641}{1386}{725}{1396}] (inL2) {};
\node[sigtag,spanbox={641}{1400}{725}{1409}] (inL3) {};
\node[sigtag,spanbox={641}{1415}{725}{1425}] (inL4) {};
\node[sigtag,spanbox={641}{1428}{725}{1438}] (inL5) {};
\node[sigtag,spanbox={641}{1443}{725}{1453}] (inL6) {};
\node[sigtag,spanbox={641}{1458}{725}{1468}] (inL7) {};
\node[sigtag,spanbox={641}{1473}{745}{1483}] (inL8) {};
\node[sigtag,spanbox={641}{1485}{745}{1495}] (inL9) {};
\node[fader,spanbox={765}{1406}{784}{1432}] (fdL) {};
\node[sigbox,spanbox={813}{1367}{861}{1496}] (boxL) {};
\node[sigtag,spanbox={926}{1420}{1023}{1430}] (tagL1) {};
\node[sigtag,spanbox={926}{1437}{1023}{1447}] (tagL2) {};
\coordinate (jL2) at (739,1391);
\coordinate (jL3) at (739,1404);
\coordinate (jL5) at (737,1433);
\coordinate (jL6) at (737,1448);
\coordinate (fiL1) at (765,1410);
\coordinate (fiL2) at (765,1414);
\coordinate (fiL5) at (765,1425);
\coordinate (fiL6) at (765,1430);
\coordinate (foL1) at (784,1411);
\coordinate (foL2) at (784,1415);
\coordinate (foL3) at (784,1419);
\coordinate (foL4) at (784,1423);
\coordinate (foL5) at (784,1427);
\coordinate (boL1) at (861,1426);
\coordinate (boL2) at (861,1442);
\draw[wire] (inL1) -- (inL1 -| boxL.west);
\draw[wire] (inL2) -- (jL2) -- (fiL1);
\draw[wire] (inL3) -- (jL3) -- (fiL2);
\draw[wire] (inL4) -- (inL4 -| fdL.west);
\draw[wire] (inL5) -- (jL5) -- (fiL5);
\draw[wire] (inL6) -- (jL6) -- (fiL6);
\draw[wire] (inL7) -- (inL7 -| boxL.west);
\draw[wire] (inL8) -- (inL8 -| boxL.west);
\draw[wire] (inL9) -- (inL9 -| boxL.west);
\draw[wire] (foL1) -- (foL1 -| boxL.west);
\draw[wire] (foL2) -- (foL2 -| boxL.west);
\draw[wire] (foL3) -- (foL3 -| boxL.west);
\draw[wire] (foL4) -- (foL4 -| boxL.west);
\draw[wire] (foL5) -- (foL5 -| boxL.west);
\draw[wire] (boL1) -- (boL1 -| tagL1.west);
\draw[wire] (boL2) -- (boL2 -| tagL2.west);

% Small marks inside the signal tags
\node[tagmark] (mk1) at (281,746) {:};
\node[tagmark] (mk2) at (495,835) {:};
\node[tagmark] (mk3) at (622,758) {:};
\node[tagmark] (mk4) at (760,757) {:};
\node[tagmark] (mk5) at (926,737) {:};
\node[tagmark] (mk6) at (990,781) {:};
\node[tagmark] (mk7) at (449,955) {:};
\node[tagmark] (mk8) at (261,1028) {:};
\node[tagmark] (mk9) at (340,1049) {:};
\node[tagmark] (mk10) at (549,1092) {:};
\node[tagmark] (mk11) at (410,1154) {:};
\node[tagmark] (mk12) at (974,1086) {:};
\node[tagmark] (mk13) at (974,1097) {:};
\node[tagmark] (mk14) at (974,1135) {:};
\node[tagmark] (mk15) at (490,1212) {:};
\node[tagmark] (mk16) at (162,1312) {:};
\node[tagmark] (mk17) at (447,1281) {:};
\node[tagmark] (mk18) at (447,1296) {:};
\node[tagmark] (mk19) at (447,1311) {:};
\node[tagmark] (mk20) at (151,1373) {:};
\node[tagmark] (mk21) at (151,1383) {:};
\node[tagmark] (mk22) at (151,1393) {:};
\node[tagmark] (mk23) at (151,1403) {:};
\node[tagmark] (mk24) at (151,1413) {:};
\node[tagmark] (mk25) at (151,1423) {:};
\node[tagmark,text=black!80] (mk26) at (487,1372) {1:};
\node[tagmark] (mk27) at (411,1385) {:};
\node[tagmark] (mk28) at (490,1397) {:};
\node[tagmark] (mk29) at (411,1410) {:};
\node[tagmark] (mk30) at (154,1468) {:};
\node[tagmark] (mk31) at (154,1479) {:};
\node[tagmark] (mk32) at (465,1467) {:};
\node[tagmark] (mk33) at (662,1377) {:};
\node[tagmark] (mk34) at (662,1391) {:};
\node[tagmark] (mk35) at (662,1405) {:};
\node[tagmark] (mk36) at (662,1420) {:};
\node[tagmark] (mk37) at (661,1433) {:};
\node[tagmark] (mk38) at (661,1448) {:};
\node[tagmark] (mk39) at (662,1463) {:};
\node[tagmark] (mk40) at (660,1478) {:};
\node[tagmark] (mk41) at (661,1490) {:};
\end{tikzpicture}
\end{document}
